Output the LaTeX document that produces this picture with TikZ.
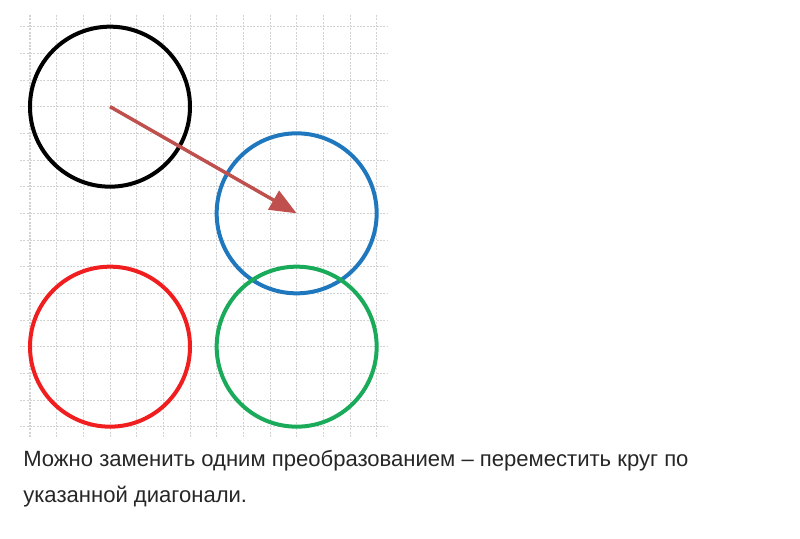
\documentclass[tikz,border=0pt]{standalone}
\usepackage{fontspec}
\setmainfont{Liberation Sans}
\usetikzlibrary{arrows.meta}
\definecolor{arrowred}{RGB}{192,80,77}
\definecolor{circblue}{RGB}{31,120,190}
\definecolor{circred}{RGB}{240,30,30}
\definecolor{circgreen}{RGB}{25,170,90}
\tikzset{
  gridline/.style={gray!35,line width=0.75pt,dash pattern=on 1.5pt off 1pt},
  ring/.style={line width=3pt}
}

\begin{document}
\begin{tikzpicture}[x=20pt,y=20pt]
   \useasboundingbox (-1.125,0) rectangle (28.875,-20.2125);
   % grid
   \foreach \x in {0,...,13} {
    \draw[gridline] (\x,-0.56) -- (\x,-16.4);
   }
   \foreach \y in {1,...,16} {
    \draw[gridline] (-0.375,-\y) -- (13.4,-\y);
   }
   % centres
   \coordinate (blackc) at (3,-4);
   \coordinate (bluec) at (10,-8);
   \coordinate (redc) at (3,-13);
   \coordinate (greenc) at (10,-13);
   \draw[ring,black] (blackc) circle(3);
   \draw[ring,circblue] (bluec) circle(3);
   \draw[ring,circred] (redc) circle(3);
   \draw[ring,circgreen] (greenc) circle(3);
   \draw[arrowred,line width=2.6pt,-{Triangle[length=20pt,width=16pt]}] (blackc) -- (bluec);
   % caption
   \node[anchor=base west,inner sep=0pt,font=\fontsize{16.55pt}{20pt}\selectfont,text=black!85] (line1) at (-0.26,-17.475) {Можно заменить одним преобразованием – переместить круг по};
   \node[anchor=base west,inner sep=0pt,font=\fontsize{16.55pt}{20pt}\selectfont,text=black!85] (line2) at (-0.26,-18.825) {указанной диагонали.};
  \end{tikzpicture}
\end{document}
